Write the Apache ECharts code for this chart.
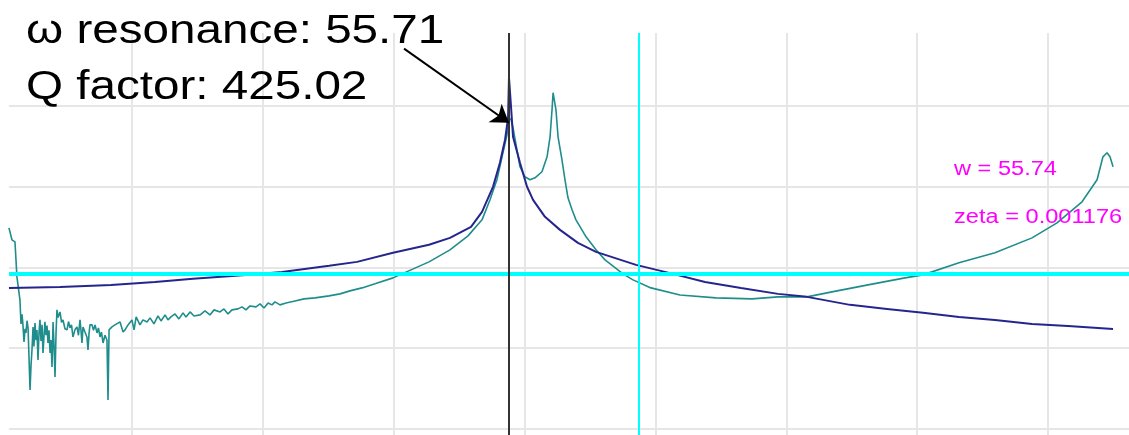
<!DOCTYPE html>
<html><head><meta charset="utf-8">
<script src="https://cdn.jsdelivr.net/npm/echarts@6/dist/echarts.min.js"></script>
<style>html,body{margin:0;padding:0;background:#fff;overflow:hidden}#c{width:1129px;height:435px}</style>
</head><body><div id="c"></div>
<script>
// Fitted response curve (navy): [frequency, level]
const navyCurve = [
 [0.60,17.46],[4.50,17.58],[8.40,17.83],[11.76,18.20],[14.66,18.58],[18.71,19.07],[21.47,19.44],
 [25.06,20.19],[27.20,20.68],[29.95,21.80],[32.70,22.79],[34.30,23.65],[35.91,25.02],[36.75,26.87],
 [37.59,29.97],[38.12,32.94],[38.51,35.79],[38.74,38.51],[38.81,43.47],[38.93,40.74],[39.12,36.16],
 [39.65,32.94],[40.19,29.97],[40.65,28.36],[41.56,26.25],[42.71,24.64],[44.08,23.03],[45.46,21.92],
 [48.52,20.31],[51.04,19.32],[53.79,18.20],[56.54,17.46],[59.37,16.72],[61.58,16.35],[64.87,15.36],
 [67.70,14.86],[70.45,14.37],[73.20,13.87],[75.95,13.50],[78.78,13.00],[81.53,12.76],[84.97,12.38]
];
// Measured response (teal): [frequency, level]
const tealCurve = [
 [0.60,24.89],[0.83,23.41],[1.06,23.16],[1.21,18.82],[1.44,15.98],[1.52,13.0],[1.60,14.2],[1.67,12.88],
 [1.75,10.77],[1.83,12.4],[1.90,11.89],[1.98,13.4],[2.06,12.51],[2.13,9.0],[2.21,4.83],[2.29,8.0],
 [2.36,9.78],[2.44,12.63],[2.51,10.2],[2.59,13.1],[2.67,11.0],[2.74,12.26],[2.82,8.54],[2.90,12.0],
 [2.97,13.50],[3.05,10.9],[3.13,12.9],[3.20,9.41],[3.28,11.5],[3.35,13.25],[3.43,11.6],[3.51,12.8],
 [3.58,10.65],[3.66,12.2],[3.74,9.41],[3.81,11.0],[3.89,7.68],[3.97,13.25],[4.04,10.5],[4.12,6.44],
 [4.20,12.0],[4.27,14.74],[4.35,13.8],[4.50,14.49],[4.62,13.2],[4.73,13.50],[4.88,12.4],[5.04,12.26],
 [5.15,13.3],[5.27,12.51],[5.38,12.9],[5.49,11.39],[5.65,12.3],[5.80,12.63],[5.91,11.6],[6.03,13.50],
 [6.11,12.1],[6.18,10.65],[6.26,12.63],[6.41,12.0],[6.56,11.39],[6.64,9.78],[6.72,11.8],[6.79,12.9],
 [6.95,12.88],[7.06,12.2],[7.18,12.88],[7.33,11.89],[7.44,12.5],[7.56,11.39],[7.67,12.0],[7.79,10.65],
 [7.94,11.6],[8.09,11.02],[8.17,3.59],[8.25,12.26],[8.47,12.63],[8.70,12.88],[9.09,13.25],[9.32,12.01],
 [9.47,12.26],[9.70,12.88],
 [10.00,13.50],[10.16,12.26],[10.32,13.87],[10.61,12.88],[10.84,13.50],[11.15,13.25],[11.38,13.75],
 [11.68,13.00],[11.99,13.99],[12.22,13.37],[12.53,14.12],[12.75,13.50],[12.98,13.87],[13.29,14.24],
 [13.59,13.62],[13.90,14.37],[14.13,13.87],[14.44,14.49],[14.74,13.99],[15.21,14.12],[15.58,14.61],
 [15.96,14.12],[16.27,14.74],[16.73,14.49],[17.03,14.86],[17.34,14.24],[17.64,14.74],[18.10,14.86],
 [18.41,15.11],[18.71,14.74],[19.02,15.23],[19.48,15.11],[19.79,15.48],[20.09,14.98],[20.40,15.60],
 [20.70,15.36],[20.93,15.73],[21.31,15.36],[21.77,15.60],[22.46,15.85],[23.15,16.10],[23.99,16.22],
 [25.06,16.47],[25.90,16.72],[26.66,17.09],[27.58,17.46],[28.57,17.96],[29.95,18.70],[31.32,19.69],
 [32.70,20.68],[34.30,22.17],[35.68,23.90],[36.75,25.88],[37.36,28.36],[37.89,30.84],[38.35,34.18],
 [38.66,36.41],[38.81,38.51],[38.97,38.27],[39.12,37.28],[39.42,34.55],[39.65,32.45],[40.03,31.21],
 [40.42,30.84],[40.80,31.08],[41.33,31.83],[41.72,33.68],[41.95,36.16],[42.10,39.50],[42.18,41.61],
 [42.25,41.61],[42.40,39.50],[42.56,36.16],[42.86,33.31],[43.09,30.84],[43.32,28.61],[43.63,27.12],
 [43.93,25.88],[44.70,23.78],[45.46,22.17],[46.15,20.93],[46.84,20.06],[47.52,19.20],[48.29,18.45],
 [49.66,17.46],[51.88,16.59],[54.63,16.22],[57.38,16.10],[59.37,16.35],[61.58,16.35],[63.49,16.97],
 [66.25,17.83],[69.07,18.70],[70.45,19.07],[73.20,20.56],[75.95,21.80],[78.78,23.65],[80.69,25.51],
 [82.60,28.11],[83.75,30.84],[84.20,33.68],[84.51,34.18],[84.74,33.68],[84.97,32.45]
];
const resonanceFreq = 38.81;
const cursorFreq = 48.75;
const cursorLevel = 19.20;
const arrowFrom = [30.79, 47.06];
const arrowTo = [38.81, 37.89];
const annotationLines = ['ω resonance: 55.71', 'Q factor: 425.02'];
const fitLines = ['w = 55.74', 'zeta = 0.001176'];
const xMin = 0, xMax = 86.19, yMin = 0, yMax = 49, step = 10;

const chart = echarts.init(document.getElementById('c'), null, {renderer: 'canvas'});
const gridColor = '#e6e6e6';
chart.setOption({
  animation: false,
  backgroundColor: '#fff',
  grid: [
    {left: 9, top: 33, right: 0, bottom: 6},
    {left: 1.1, top: 33, right: 0, bottom: 0}
  ],
  xAxis: [
    {gridIndex: 0, type: 'value', min: 0.6037, max: xMax, show: false},
    {gridIndex: 1, type: 'value', min: xMin, max: xMax, interval: step,
     axisLine: {show: false}, axisTick: {show: false}, axisLabel: {show: false},
     splitLine: {show: true, showMinLine: false, showMaxLine: false, lineStyle: {color: gridColor, width: 2}}}
  ],
  yAxis: [
    {gridIndex: 0, type: 'value', min: yMin, max: yMax, interval: step,
     axisLine: {show: false}, axisTick: {show: false}, axisLabel: {show: false},
     splitLine: {show: true, showMinLine: true, showMaxLine: false, lineStyle: {color: gridColor, width: 2}}},
    {gridIndex: 1, type: 'value', min: 0, max: 1, show: false}
  ],
  series: [
    {
      type: 'line', xAxisIndex: 1, yAxisIndex: 1, data: [], z: 1, silent: true,
      markLine: {
        silent: true, symbol: 'none', label: {show: false}, animation: false,
        data: [{xAxis: cursorFreq, lineStyle: {color: '#00ffff', width: 2, type: 'solid'}}]
      }
    },
    {
      type: 'line', xAxisIndex: 0, yAxisIndex: 0, data: [], z: 1, silent: true,
      markLine: {
        silent: true, symbol: 'none', label: {show: false}, animation: false,
        data: [{yAxis: cursorLevel, lineStyle: {color: '#00ffff', width: 4, type: 'solid'}}]
      }
    },
    {
      type: 'line', xAxisIndex: 1, yAxisIndex: 1, data: [], z: 2, silent: true,
      markLine: {
        silent: true, symbol: 'none', label: {show: false}, animation: false,
        data: [{xAxis: resonanceFreq, lineStyle: {color: '#333333', width: 2, type: 'solid'}}]
      }
    },
    {
      type: 'line', xAxisIndex: 0, yAxisIndex: 0, data: tealCurve, z: 3,
      symbol: 'none', smooth: false, silent: true,
      lineStyle: {color: '#1f8d8c', width: 1.6}
    },
    {
      type: 'line', xAxisIndex: 0, yAxisIndex: 0, data: navyCurve, z: 4,
      symbol: 'none', smooth: false, silent: true,
      lineStyle: {color: '#25258e', width: 2}
    },
    {
      type: 'line', xAxisIndex: 0, yAxisIndex: 0, data: [], z: 5, silent: true,
      markLine: {
        silent: true, symbol: ['none', 'arrow'], symbolSize: 17, label: {show: false}, animation: false,
        lineStyle: {color: '#000', width: 2, type: 'solid'},
        data: [[{coord: arrowFrom}, {coord: arrowTo}]]
      }
    }
  ],
  graphic: [
    {type: 'text', x: 26, y: 31.5, scaleX: 1.19, z: 10,
     style: {text: annotationLines[0], font: '40px "Liberation Sans", Arial, sans-serif', fill: '#000', verticalAlign: 'middle'}},
    {type: 'text', x: 26, y: 88, scaleX: 1.19, z: 10,
     style: {text: annotationLines[1], font: '40px "Liberation Sans", Arial, sans-serif', fill: '#000', verticalAlign: 'middle'}},
    {type: 'text', x: 954, y: 169.5, scaleX: 1.18, z: 10,
     style: {text: fitLines[0], font: '20px "Liberation Sans", Arial, sans-serif', fill: '#ff00ff', verticalAlign: 'middle'}},
    {type: 'text', x: 954, y: 217.5, scaleX: 1.18, z: 10,
     style: {text: fitLines[1], font: '20px "Liberation Sans", Arial, sans-serif', fill: '#ff00ff', verticalAlign: 'middle'}}
  ]
});
</script></body></html>
